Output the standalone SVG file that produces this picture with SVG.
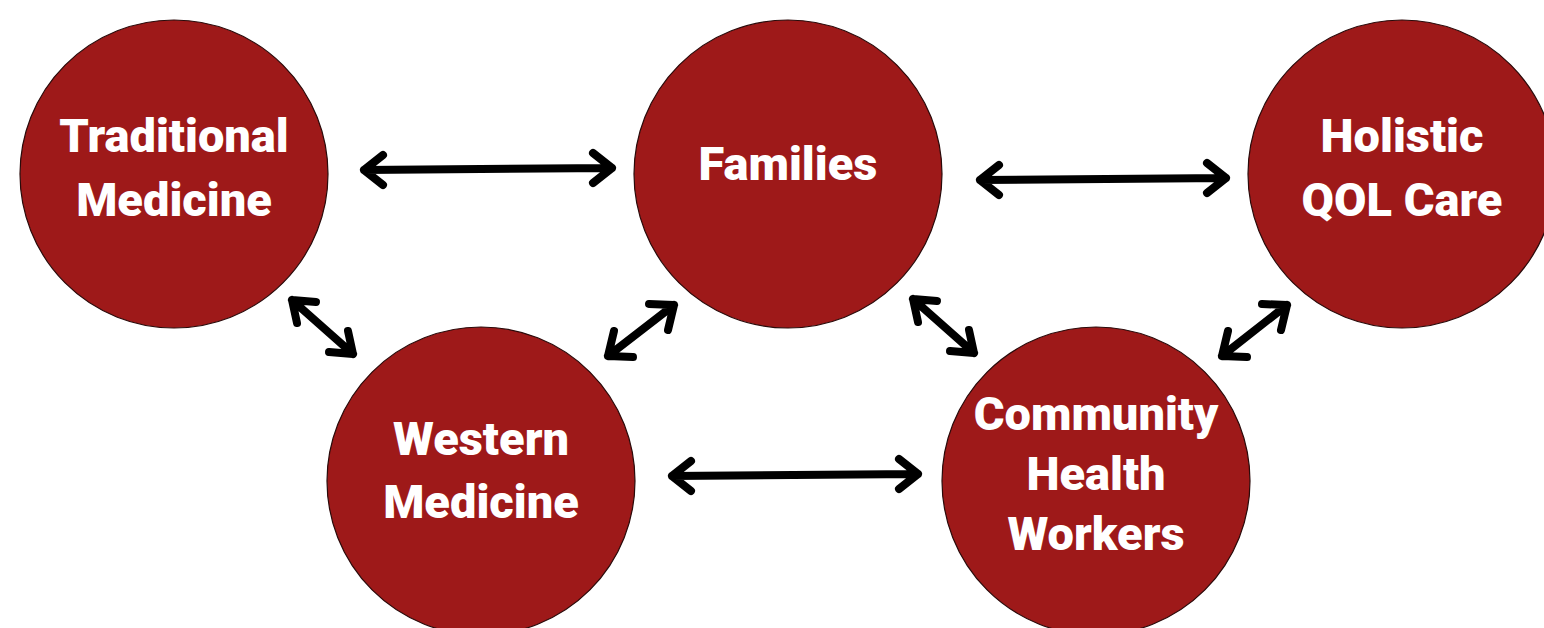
<svg xmlns="http://www.w3.org/2000/svg" width="1544" height="628" viewBox="0 0 1544 628">
  <style>
    .node circle { fill: #9e1919; stroke: #2a0a0a; stroke-width: 1.2; }
    .node text { fill: #ffffff; font-family: Roboto, "Liberation Sans", sans-serif; font-weight: 900; font-size: 47px; text-anchor: middle; }
    .link { fill: none; stroke: #000000; stroke-width: 8; stroke-linecap: round; stroke-linejoin: round; }
  </style>
  <rect width="1544" height="628" fill="#ffffff"/>

  <g id="traditional-medicine" class="node">
    <circle cx="174" cy="174" r="154"/>
    <text x="174" y="152">Traditional</text>
    <text x="174" y="216">Medicine</text>
  </g>
  <g id="families" class="node">
    <circle cx="788" cy="174" r="154"/>
    <text x="788" y="180">Families</text>
  </g>
  <g id="holistic-qol-care" class="node">
    <circle cx="1402" cy="174" r="154"/>
    <text x="1402" y="152">Holistic</text>
    <text x="1402" y="216">QOL Care</text>
  </g>
  <g id="western-medicine" class="node">
    <circle cx="481" cy="481" r="154"/>
    <text x="481" y="455">Western</text>
    <text x="481" y="518">Medicine</text>
  </g>
  <g id="community-health-workers" class="node">
    <circle cx="1096" cy="481" r="154"/>
    <text x="1096" y="430">Community</text>
    <text x="1096" y="490">Health</text>
    <text x="1096" y="550">Workers</text>
  </g>

  <!-- two-way links between nodes -->
  <g id="connectors">
    <path class="link" d="M364 170 L612 168 M383 155 L364 170 L383 185 M593 153 L612 168 L593 183"/>
    <path class="link" d="M980 180 L1226 178 M999 165 L980 180 L999 195 M1207 163 L1226 178 L1207 193"/>
    <path class="link" d="M672 476 L918 474 M691 461 L672 476 L691 491 M899 459 L918 474 L899 489"/>
    <path class="link" d="M292 300 L353 354 M316 302 L292 300 L297 323 M329 352 L353 354 L348 331"/>
    <path class="link" d="M608 356 L674 305 M614 331 L608 356 L633 357 M649 304 L674 305 L668 330"/>
    <path class="link" d="M913 299 L974 353 M937 301 L913 299 L918 322 M950 351 L974 353 L969 330"/>
    <path class="link" d="M1222 356 L1287 305 M1228 331 L1222 356 L1247 357 M1262 304 L1287 305 L1281 330"/>
  </g>
</svg>
